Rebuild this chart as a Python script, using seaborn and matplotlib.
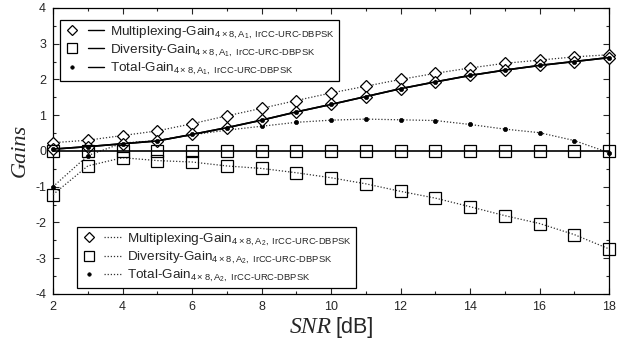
import numpy as np
import pandas as pd
import matplotlib
matplotlib.use("Agg")
import matplotlib.pyplot as plt
import seaborn as sns
from matplotlib.lines import Line2D
from matplotlib.legend_handler import HandlerTuple
from matplotlib.ticker import MultipleLocator

sns.set_theme(style="ticks")
plt.rcParams['font.family'] = ['Liberation Sans', 'DejaVu Sans']
plt.rcParams['mathtext.fontset'] = 'custom'
plt.rcParams['mathtext.rm'] = 'Liberation Sans'
plt.rcParams['mathtext.it'] = 'Liberation Sans:italic'
plt.rcParams['axes.unicode_minus'] = False

snr = [2, 3, 4, 5, 6, 7, 8, 9, 10, 11, 12, 13, 14, 15, 16, 17, 18]

mux_a1 = [0.05, 0.12, 0.20, 0.28, 0.46, 0.65, 0.86, 1.09, 1.30, 1.52, 1.74, 1.93, 2.11, 2.26, 2.39, 2.50, 2.61]
div_a1 = [0.0] * 17
tot_a1 = [0.05, 0.12, 0.20, 0.28, 0.46, 0.65, 0.86, 1.09, 1.30, 1.52, 1.74, 1.93, 2.11, 2.26, 2.39, 2.50, 2.61]

mux_a2 = [0.23, 0.30, 0.43, 0.56, 0.76, 0.98, 1.19, 1.41, 1.62, 1.81, 2.00, 2.17, 2.32, 2.45, 2.54, 2.63, 2.69]
div_a2 = [-1.22, -0.42, -0.19, -0.27, -0.31, -0.42, -0.49, -0.61, -0.75, -0.92, -1.13, -1.32, -1.56, -1.81, -2.03, -2.34, -2.74]
tot_a2 = [-1.00, -0.13, 0.22, 0.29, 0.45, 0.58, 0.69, 0.80, 0.86, 0.89, 0.87, 0.85, 0.74, 0.61, 0.51, 0.29, -0.05]

sub1 = r"$_{4\times 8,\mathrm{A}_1,\ \mathrm{IrCC‐URC‐DBPSK}}$"
sub2 = r"$_{4\times 8,\mathrm{A}_2,\ \mathrm{IrCC‐URC‐DBPSK}}$"
labels_a1 = ["Multiplexing-Gain" + sub1, "Diversity-Gain" + sub1, "Total-Gain" + sub1]
labels_a2 = ["Multiplexing-Gain" + sub2, "Diversity-Gain" + sub2, "Total-Gain" + sub2]

fig = plt.figure(figsize=(6.24, 3.43), dpi=100)
ax = fig.add_axes([0.085, 0.143, 0.891, 0.834])

styles = [
    dict(marker='D', ms=6.5, mfc='white', mec='black', mew=0.9),
    dict(marker='s', ms=8.5, mfc='none', mec='black', mew=0.9),
    dict(marker='o', ms=3, mfc='black', mec='black', mew=0.5),
]
leg_styles = [
    dict(marker='D', ms=5, mfc='white', mec='black', mew=0.9),
    dict(marker='s', ms=7, mfc='none', mec='black', mew=0.9),
    dict(marker='o', ms=2.5, mfc='black', mec='black', mew=0.5),
]

# A2 dotted series
for vals, st in zip([mux_a2, div_a2, tot_a2], styles):
    sns.lineplot(x=snr, y=vals, ax=ax, color='#333333', linestyle=(0, (1, 1.5)), lw=0.9,
                 **st, zorder=3, clip_on=False)
# A1 solid series
for vals, st in zip([mux_a1, div_a1, tot_a1], styles):
    sns.lineplot(x=snr, y=vals, ax=ax, color='black', linestyle='-', lw=1.2, **st, zorder=4,
                 clip_on=False)

ax.set_xlim(2, 18)
ax.set_ylim(-4, 4)
ax.xaxis.set_major_locator(MultipleLocator(2))
ax.xaxis.set_minor_locator(MultipleLocator(1))
ax.yaxis.set_major_locator(MultipleLocator(1))
ax.yaxis.set_minor_locator(MultipleLocator(0.5))
ax.tick_params(which='both', direction='in', top=True, right=True, labelsize=9, pad=5)
ax.tick_params(which='major', length=4, width=0.8)
ax.tick_params(which='minor', length=2.5, width=0.8)
for sp in ax.spines.values():
    sp.set_linewidth(0.9)
    sp.set_color('black')

ax.set_ylabel("Gains", fontsize=16, fontstyle='italic', family=['Liberation Serif'], labelpad=4)
ax.set_xlabel("")
fig.text(0.531, 0.03, "SNR", fontsize=17, fontstyle='italic', family=['Liberation Serif'],
         ha='right', va='baseline')
fig.text(0.538, 0.03, "[dB]", fontsize=15.5, ha='left', va='baseline')

def make_handles(ls, color, lw):
    hs = []
    for st in leg_styles:
        m = Line2D([], [], linestyle='none', **st)
        l = Line2D([], [], color=color, linestyle=ls, lw=lw)
        hs.append((m, l))
    return hs

common = dict(loc='upper left', fontsize=9.7,
              handler_map={tuple: HandlerTuple(ndivide=None, pad=0.5)},
              handlelength=3.0, handletextpad=0.4, labelspacing=0.12,
              borderpad=0.3, borderaxespad=0, fancybox=False, framealpha=1,
              edgecolor='black')
leg1 = fig.legend(make_handles('-', 'black', 1.0), labels_a1,
                  bbox_to_anchor=(0.096, 0.942), **common)
leg1.get_frame().set_linewidth(0.9)
leg2 = fig.legend(make_handles((0, (1, 1.5)), '#333333', 0.9), labels_a2,
                  bbox_to_anchor=(0.123, 0.338), **common)
leg2.get_frame().set_linewidth(0.9)

fig.savefig("out.png", dpi=100)
